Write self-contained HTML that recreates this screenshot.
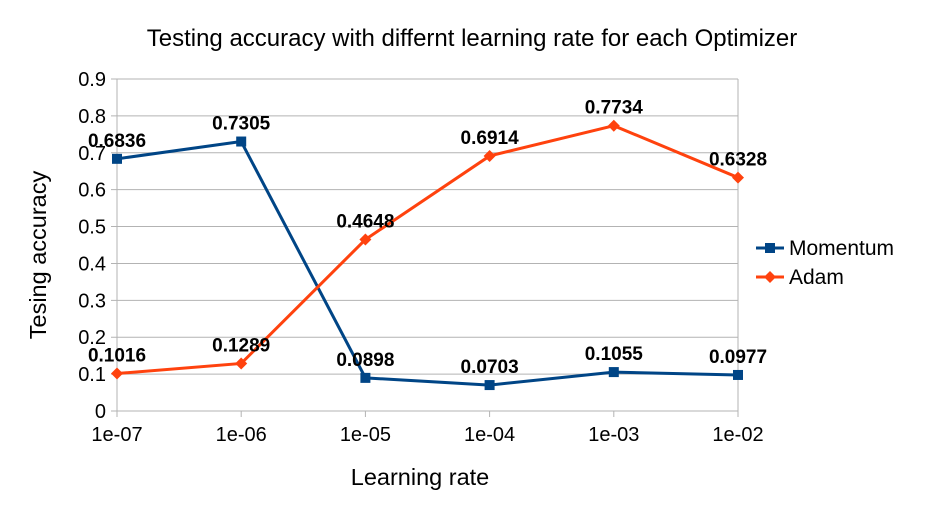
<!DOCTYPE html>
<html><head><meta charset="utf-8"><style>
body{margin:0;background:#fff;}
svg{font-family:"Liberation Sans",sans-serif;display:block}
</style></head><body>
<svg id="c" width="945" height="512"></svg>
<script>
const categories=["1e-07","1e-06","1e-05","1e-04","1e-03","1e-02"];
const momentum=[0.6836,0.7305,0.0898,0.0703,0.1055,0.0977];
const adam=[0.1016,0.1289,0.4648,0.6914,0.7734,0.6328];
const yTicks=[0,0.1,0.2,0.3,0.4,0.5,0.6,0.7,0.8,0.9];
const NS="http://www.w3.org/2000/svg";
const svg=document.getElementById('c');
const x0=117,x1=738,y0=411,y1=79;
function xs(i){return x0+i*(x1-x0)/(categories.length-1);}
function ys(v){return y0-(v/0.9)*(y0-y1);}
function el(t,a,p){const e=document.createElementNS(NS,t);for(const k in a)e.setAttribute(k,a[k]);(p||svg).appendChild(e);return e;}
function txt(s,a){const e=el('text',a);e.textContent=s;return e;}
yTicks.forEach(v=>{
 const g=el('line',{x1:x0-6,x2:x1,y1:ys(v),y2:ys(v),stroke:'#b3b3b3','stroke-width':1});
 
 
 const t=txt(String(v),{x:106,y:ys(v)+7,'text-anchor':'end','font-size':20,fill:'#000'});
 
 
});
const ax=el('line',{x1:x0,x2:x0,y1:y1,y2:y0,stroke:'#b3b3b3','stroke-width':1});


const rb=el('line',{x1:x1,x2:x1,y1:y1,y2:y0,stroke:'#b3b3b3','stroke-width':1});


categories.forEach((c,i)=>{
 const g=el('line',{x1:xs(i),x2:xs(i),y1:y0,y2:y0+6,stroke:'#b3b3b3','stroke-width':1});
 
 
 const t=txt(c,{x:xs(i),y:y0+30,'text-anchor':'middle','font-size':20,fill:'#000'});
 
 
});
function series(vals,color,marker,name){
 const p=el('polyline',{points:vals.map((v,i)=>xs(i)+','+ys(v)).join(' '),fill:'none',stroke:color,'stroke-width':3});
 
 
 vals.forEach((v,i)=>{
  let m;
  if(marker==='sq') m=el('rect',{x:xs(i)-5,y:ys(v)-5,width:10,height:10,fill:color});
  else m=el('polygon',{points:`${xs(i)},${ys(v)-6} ${xs(i)+6},${ys(v)} ${xs(i)},${ys(v)+6} ${xs(i)-6},${ys(v)}`,fill:color});
  
  
  const t=txt(v.toFixed(4),{x:xs(i),y:ys(v)-12,'text-anchor':'middle','font-size':19,'font-weight':'bold',fill:'#000'});
  
  
 });
}
series(momentum,'#004586','sq','momentum');
series(adam,'#ff420e','di','adam');
const t1=txt('Testing accuracy with differnt learning rate for each Optimizer',{x:472,y:46,'text-anchor':'middle','font-size':24,fill:'#000'});


const t2=txt('Learning rate',{x:420,y:485,'text-anchor':'middle','font-size':23.5,fill:'#000'});


const t3=txt('Tesing accuracy',{x:0,y:0,'text-anchor':'middle','font-size':23.5,fill:'#000',transform:'translate(46,255) rotate(-90)'});


[['Momentum','#004586','sq',248],['Adam','#ff420e','di',277]].forEach(([n,c,m,y])=>{
 const g=el('g',{});
 
 
 el('line',{x1:756,x2:784,y1:y,y2:y,stroke:c,'stroke-width':3},g);
 if(m==='sq') el('rect',{x:765,y:y-5,width:10,height:10,fill:c},g);
 else el('polygon',{points:`770,${y-6} 776,${y} 770,${y+6} 764,${y}`,fill:c},g);
 const t=el('text',{x:789,y:y+7,'font-size':21,fill:'#000'},g);t.textContent=n;
});
</script>
</body></html>
